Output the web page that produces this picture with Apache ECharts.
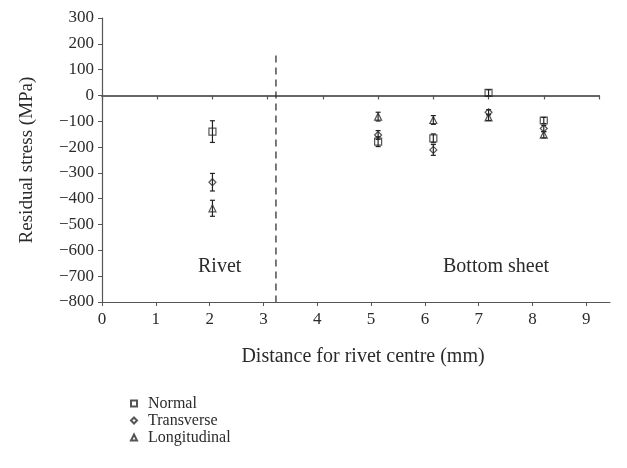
<!DOCTYPE html>
<html>
<head>
<meta charset="utf-8">
<style>
  html, body { margin: 0; padding: 0; background: #fff; }
  #chart { width: 627px; height: 468px; }
</style>
<script src="https://cdn.jsdelivr.net/npm/echarts@6/dist/echarts.min.js"></script>
</head>
<body>
<div id="chart"></div>
<script>
// Measurement positions (mm from rivet centre)
const positions = [2, 5, 6, 7, 8];

// Residual stress (MPa) and error half-widths for each direction
const normalStress = [-140, -179, -166, 10, -97];
const normalErr = [42, 19, 17, 12, 12];
const transverseStress = [-336, -153, -211, -65, -128];
const transverseErr = [34, 17, 21, 10, 12];
const longitudinalStress = [-437, -82, -95, -85, -152];
const longitudinalErr = [31, 17, 17, 12, 12];

// Axis ticks
const xTicks = [0, 1, 2, 3, 4, 5, 6, 7, 8, 9];
const yMin = -800, yMax = 300, yStep = 100;

// Boundary between rivet and bottom sheet
const boundaryX = 3.15;
const boundaryTop = 155;

const FONT = '"Liberation Serif", "DejaVu Serif", serif';
const INK = '#2b2b2b';
const AXIS = '#555';

function pairs(values) {
  return positions.map((x, i) => [x, values[i]]);
}
function errData(values, errs) {
  return positions.map((x, i) => [x, values[i] - errs[i], values[i] + errs[i]]);
}

function errorBarSeries(values, errs) {
  return {
    type: 'custom',
    xAxisIndex: 1, yAxisIndex: 1,
    silent: true,
    z: 3,
    data: errData(values, errs),
    renderItem: function (params, api) {
      const x = api.value(0);
      const lo = api.coord([x, api.value(1)]);
      const hi = api.coord([x, api.value(2)]);
      const cap = 2.5;
      const style = { stroke: '#222', lineWidth: 1.2 };
      return {
        type: 'group',
        children: [
          { type: 'line', shape: { x1: lo[0], y1: lo[1], x2: hi[0], y2: hi[1] }, style: style },
          { type: 'line', shape: { x1: lo[0] - cap, y1: lo[1], x2: lo[0] + cap, y2: lo[1] }, style: style },
          { type: 'line', shape: { x1: hi[0] - cap, y1: hi[1], x2: hi[0] + cap, y2: hi[1] }, style: style }
        ]
      };
    }
  };
}

function markerSeries(name, values, symbol, size) {
  return {
    name: name,
    type: 'scatter',
    xAxisIndex: 1, yAxisIndex: 1,
    symbol: symbol,
    symbolSize: size,
    z: 4,
    itemStyle: { color: 'rgba(255,255,255,0)', borderColor: INK, borderWidth: 1.2 },
    data: pairs(values)
  };
}

const chart = echarts.init(document.getElementById('chart'), null, { renderer: 'canvas' });

chart.setOption({
  animation: false,
  backgroundColor: '#fff',
  textStyle: { fontFamily: FONT, color: INK },
  grid: [
    { left: 102, right: 17, top: 18, bottom: 166 },
    { left: 102, right: 28, top: 18, bottom: 166 }
  ],
  xAxis: [
    {
      gridIndex: 0,
      type: 'value',
      min: 0, max: 9.44,
      name: 'Distance for rivet centre (mm)',
      nameLocation: 'middle',
      nameGap: 45,
      nameTextStyle: { fontFamily: FONT, fontSize: 20, color: INK, padding: [0, 0, 0, 14] },
      axisLine: { onZero: false, lineStyle: { color: AXIS, width: 1.2 } },
      axisTick: { show: true, length: 4, customValues: xTicks, lineStyle: { color: AXIS } },
      axisLabel: { customValues: xTicks, margin: 9, fontFamily: FONT, fontSize: 17, color: INK },
      splitLine: { show: false }
    },
    {
      gridIndex: 1,
      type: 'value',
      min: 0, max: 9, interval: 1,
      axisLine: { onZero: true, lineStyle: { color: '#666', width: 2 } },
      axisTick: { show: true, length: 4, lineStyle: { color: '#555', width: 1.2 } },
      axisLabel: { show: false },
      splitLine: { show: false }
    }
  ],
  yAxis: [
    {
      gridIndex: 0,
      type: 'value',
      min: yMin, max: yMax, interval: yStep,
      name: 'Residual stress (MPa)',
      nameLocation: 'middle',
      nameGap: 65,
      nameTextStyle: { fontFamily: FONT, fontSize: 19, color: INK },
      axisLine: { show: true, onZero: false, lineStyle: { color: AXIS, width: 1.2 } },
      axisTick: { show: true, length: 4, lineStyle: { color: AXIS } },
      axisLabel: {
        margin: 8, fontFamily: FONT, fontSize: 17, color: INK,
        formatter: v => String(v).replace('-', '\u2212')
      },
      splitLine: { show: false }
    },
    {
      gridIndex: 1,
      type: 'value',
      min: yMin, max: yMax, interval: yStep,
      show: false
    }
  ],
  legend: {
    orient: 'vertical',
    left: 125,
    top: 390,
    itemWidth: 6,
    itemHeight: 6,
    itemGap: 0,
    textStyle: { fontFamily: FONT, fontSize: 16, color: INK, lineHeight: 17, padding: [0, 0, 0, 6] },
    data: ['Normal', 'Transverse', 'Longitudinal']
  },
  graphic: [
    { type: 'text', left: 198, top: 257, style: { text: 'Rivet', font: '20px ' + FONT, fill: INK } },
    { type: 'text', left: 443, top: 257, style: { text: 'Bottom sheet', font: '20px ' + FONT, fill: INK } }
  ],
  series: [
    {
      type: 'line',
      xAxisIndex: 1, yAxisIndex: 1,
      silent: true,
      symbol: 'none',
      z: 2,
      lineStyle: { color: '#333', width: 1.3, type: [7, 5] },
      data: [[boundaryX, boundaryTop], [boundaryX, yMin]]
    },
    errorBarSeries(normalStress, normalErr),
    errorBarSeries(transverseStress, transverseErr),
    errorBarSeries(longitudinalStress, longitudinalErr),
    markerSeries('Normal', normalStress, 'rect', 7),
    markerSeries('Transverse', transverseStress, 'diamond', 7),
    markerSeries('Longitudinal', longitudinalStress, 'triangle', 7)
  ]
});
</script>
</body>
</html>
